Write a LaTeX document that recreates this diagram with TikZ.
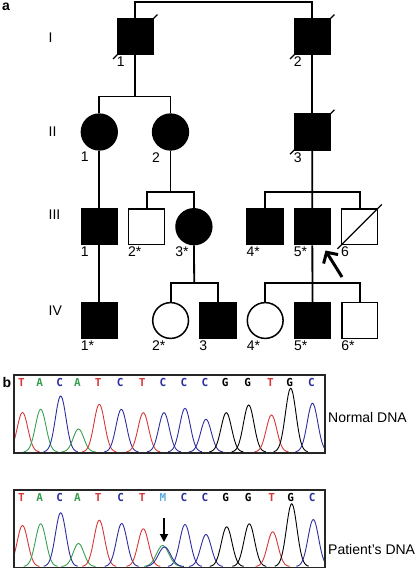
\documentclass[tikz,border=0pt]{standalone}
\usepackage{fontspec}
\setmainfont{Liberation Sans}
\newfontfamily\tracefont{DejaVu Sans Mono}
\usepackage{tikz}
\usetikzlibrary{arrows,arrows.meta,positioning}
\usepackage{xcolor}
\definecolor{baseT}{RGB}{215,55,55}
\definecolor{baseA}{RGB}{55,160,80}
\definecolor{baseC}{RGB}{45,45,160}
\definecolor{baseG}{RGB}{0,0,0}
\definecolor{baseM}{RGB}{90,170,225}
\tikzstyle{male} = [rectangle, draw, line width=1.5pt, minimum size=35.8pt, inner sep=0pt, fill=white]
\tikzstyle{female} = [circle, draw, line width=1.5pt, minimum size=35.8pt, inner sep=0pt, fill=white]
\tikzstyle{affected} = [fill=black]
\tikzstyle{kin} = [line width=1.8pt]
\tikzstyle{deceased} = [line width=1.3pt, shorten <=-5pt, shorten >=-5pt]
\tikzstyle{idtag} = [anchor=north west, inner sep=0pt, yshift=-1.5pt]
\tikzstyle{gen} = [anchor=west, inner sep=0pt]
\tikzstyle{proband} = [line width=3pt, -{Straight Barb[length=8pt,width=17pt]}]
\tikzstyle{trace} = [line width=0.9pt, samples=41]
\tikzstyle{frame} = [line width=1.5pt, draw=black!85]
\tikzstyle{basecall} = [anchor=base, inner sep=0pt, font=\tracefont\bfseries\fontsize{11}{11}\selectfont]

\begin{document}
\begin{tikzpicture}[x=1pt, y=-1pt, node distance=47.3pt, font=\fontsize{14}{16}\selectfont]
\useasboundingbox (0,0) rectangle (417,570);

% Panel a: pedigree
\node (pa) [anchor=base west, inner sep=0pt, font=\fontsize{14}{16}\selectfont\bfseries] at (2,10.7) {a};
\node (gI) [gen] at (48.5,38) {I};
\node (gII) [gen] at (48.5,132) {II};
\node (gIII) [gen] at (48.5,214.5) {III};
\node (gIV) [gen] at (48.5,310.5) {IV};

% Generation I
\node (I1) [male, affected] at (135.2,36.8) {};
\node (I2) [male, affected] at (312.2,36.8) {};
% Generation II
\node (II1) [female, affected] at (99.3,132) {};
\node (II2) [female, affected] at (170.5,132) {};
\node (II3) [male, affected] at (312.2,132) {};
% Generation III
\node (III1) [male, affected] at (99.3,226.7) {};
\node (III2) [male, right of=III1] {};
\node (III3) [female, affected, right of=III2] {};
\node (III4) [male, affected] at (265,226.7) {};
\node (III5) [male, affected, right of=III4] {};
\node (III6) [male, right of=III5] {};
% Generation IV
\node (IV1) [male, affected] at (99.3,320.5) {};
\node (IV2) [female] at (170.6,320.5) {};
\node (IV3) [male, affected, right of=IV2] {};
\node (IV4) [female, right of=IV3] {};
\node (IV5) [male, affected, right of=IV4] {};
\node (IV6) [male, right of=IV5] {};

% deceased
\draw[deceased] (I1.south west) -- (I1.north east);
\draw[deceased] (I2.south west) -- (I2.north east);
\draw[deceased] (II3.south west) -- (II3.north east);
\draw[deceased] (III6.south west) -- (III6.north east);

% lines of descent
\coordinate (top) at (135.2,2);
\coordinate (s2) at (135.2,96.5);
\coordinate (s3a) at (170.5,191.7);
\coordinate (s3b) at (312.2,191.7);
\coordinate (s4a) at (194.2,283.3);
\coordinate (s4b) at (312.2,283.3);
\draw[kin] (I1) -- (top) -| (I2);
\draw[kin] (I1) -- (s2);
\draw[kin] (II1) |- (s2) -| (II2);
\draw[kin] (I2) -- (II3);
\draw[kin] (II1) -- (III1);
\draw[kin] (II2) -- (s3a);
\draw[kin] (III2) |- (s3a) -| (III3);
\draw[kin] (II3) -- (III5);
\draw[kin] (III4) |- (s3b) -| (III6);
\draw[kin] (III1) -- (IV1);
\draw[kin] (III3) -- (s4a);
\draw[kin] (IV2) |- (s4a) -| (IV3);
\draw[kin] (III5) -- (IV5);
\draw[kin] (IV4) |- (s4b) -| (IV6);

% numbers
\foreach \p/\lbl in {I1/1, I2/2, II1/1, II2/2, II3/3, III1/1, III2/2*, III3/3*, III4/4*, III5/5*, III6/6,
    IV1/1*, IV2/2*, IV3/3, IV4/4*, IV5/5*, IV6/6*}
  \node[idtag] (\p-id) at (\p.south -| \p.west) {\lbl};

% proband
\coordinate (pb) at (342,277);
\coordinate (pbtip) at (325.5,250.5);
\draw[proband] (pb) -- (pbtip);

% Panel b: sequence traces
\node (pb-lbl) [anchor=base west, inner sep=0pt, font=\fontsize{14}{16}\selectfont\bfseries] at (2.5,387) {b};

% Normal DNA
\begin{scope}
  \clip (14,375) rectangle (325,452.5);
  \foreach \pc/\ph/\pcol in {22.5/39.5/baseT, 40.7/42.7/baseA, 60.7/56/baseC, 78.5/23/baseA, 99.3/47.7/baseT,
      121.3/42.7/baseC, 143.3/39.3/baseT, 164/39.3/baseC, 185/43.7/baseC, 206/32.7/baseC,
      226.3/39.3/baseG, 248.7/47/baseG, 271.5/37/baseT, 290.7/63.7/baseG, 312.5/48.7/baseC}
    \draw[trace, \pcol] plot[domain=\pc-17:\pc+17] (\x, {452 - \ph*exp(-((\x-\pc)^2)/56)});
\end{scope}
\draw[frame] (14,375) rectangle (325,453);
\foreach \pc/\lt/\pcol [count=\i] in {22.5/T/baseT, 40.7/A/baseA, 60.7/C/baseC, 78.5/A/baseA, 99.3/T/baseT,
    121.3/C/baseC, 143.3/T/baseT, 164/C/baseC, 185/C/baseC, 206/C/baseC,
    226.3/G/baseG, 248.7/G/baseG, 271.5/T/baseT, 290.7/G/baseG, 312.5/C/baseC}
  \node[basecall, text=\pcol] (n\i) at (\pc-1,386.5) {\lt};
\node (normal) [gen] at (328,417.5) {Normal DNA};

% Patient's DNA
\begin{scope}
  \clip (14,490) rectangle (325,567);
  \foreach \pc/\ph/\pcol in {22.5/41/baseT, 40.7/42.7/baseA, 60.7/53.7/baseC, 78.5/23/baseA, 99.3/46.3/baseT,
      121.7/43/baseC, 143.3/37.7/baseT, 185/42/baseC, 206/32/baseC,
      226.7/39.7/baseG, 249.3/42.7/baseG, 272.7/34.7/baseT, 291.7/62.7/baseG, 313.3/47/baseC}
    \draw[trace, \pcol] plot[domain=\pc-17:\pc+17] (\x, {566.5 - \ph*exp(-((\x-\pc)^2)/56)});
  \draw[trace, baseA] plot[domain=144:182] (\x, {566.5 - 21*exp(-((\x-162.7)^2)/75)});
  \draw[trace, baseC] plot[domain=146:184] (\x, {566.5 - 19.5*exp(-((\x-164.5)^2)/75)});
\end{scope}
\draw[frame] (14,490) rectangle (325,567.5);
\foreach \pc/\lt/\pcol [count=\i] in {22.5/T/baseT, 40.7/A/baseA, 60.7/C/baseC, 78.5/A/baseA, 99.3/T/baseT,
    121.7/C/baseC, 143.3/T/baseT, 164/M/baseM, 185/C/baseC, 206/C/baseC,
    226.7/G/baseG, 249.3/G/baseG, 272.7/T/baseT, 291.7/G/baseG, 313.3/C/baseC}
  \node[basecall, text=\pcol] (m\i) at (\pc-1,501) {\lt};
\node (patient) [gen] at (328,549.5) {Patient's DNA};

% mutation
\coordinate (mtop) at (164,518);
\coordinate (mtip) at (164,542);
\draw[line width=1.8pt, -{Triangle[length=8pt,width=8pt]}] (mtop) -- (mtip);
\end{tikzpicture}
\end{document}
